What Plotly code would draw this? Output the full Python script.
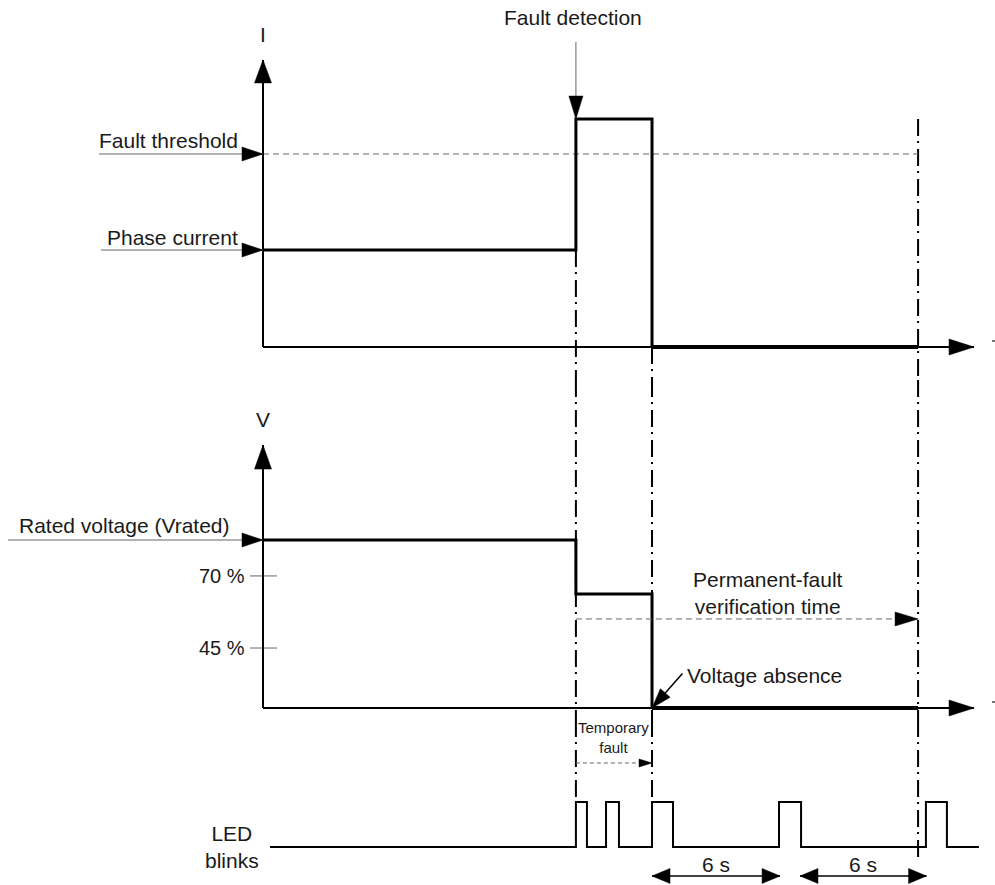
import math
import plotly.graph_objects as go

# ---- data (time in s from the vertical axes, levels per panel) ----
t_fault = 14.76          # fault appears / detection
t_clear = 18.35          # upstream breaker opens
t_verify_end = 30.9      # end of permanent-fault verification
t_axis_end = 33.54
t_led_start = 0.33
t_led_end = 33.77

# current panel (x rated current)
i_phase = 1.0
i_threshold = 1.99
i_fault = 2.35
i_axis_top = 2.96

# voltage panel (schematic %)
v_rated = 100
v_dip = 67.9
v_marks = [78.6, 35.7]
v_mark_labels = ["70 %", "45 %"]
v_verify = 53.0
v_axis_top = 156.5

# LED panel (0 = off, 1 = on)
blink_on = [14.76, 16.18, 18.35, 24.34, 31.27]
blink_off = [15.28, 16.79, 19.34, 25.38, 32.26]
led_temp_level = 1.867
period_start = [18.35, 25.33]
period_end = [24.39, 31.3]
period_labels = ["6 s", "6 s"]
period_level = -0.644

# ---- canvas ----
W, H = 995, 885
PX_PER_S = 21.2
ORIGIN_PX = 263
PANELS = {
    "y": dict(top=0, bottom=380, zero=347, scale=97.0),
    "y2": dict(top=380, bottom=720, zero=708, scale=1.68),
    "y3": dict(top=720, bottom=885, zero=847, scale=45.0),
}
FONT = "Liberation Sans, Arial, sans-serif"
TXT = "#1a1a1a"
GREY = "#666666"
DASHDOT = "17px,5px,2px,6px"

fig = go.Figure()


def seg(xs, ys, yref="y", width=2, color="black", dash=None):
    fig.add_trace(go.Scatter(
        x=xs, y=ys, yaxis=yref, mode="lines",
        line=dict(color=color, width=width, dash=dash),
        hoverinfo="skip", showlegend=False))


def head(x, y, yref, dx, dy, length, width, color="black"):
    # dx, dy: direction in screen pixels (y down)
    n = math.hypot(dx, dy)
    ux, uy = dx / n, dy / n
    px, py = -uy, ux
    bx, by = -ux * length, -uy * length
    pts = [(0, 0), (bx + px * width / 2, by + py * width / 2),
           (bx - px * width / 2, by - py * width / 2), (0, 0)]
    s = PANELS[yref]["scale"]
    fig.add_trace(go.Scatter(
        x=[x + p[0] / PX_PER_S for p in pts],
        y=[y - p[1] / s for p in pts],
        yaxis=yref, mode="lines", fill="toself", fillcolor=color,
        line=dict(color=color, width=0.5),
        hoverinfo="skip", showlegend=False))


def arrow(x0, y0, x1, y1, yref, hl, hw, lw=1, color=GREY, dash=None, head_color="black"):
    s = PANELS[yref]["scale"]
    dx = (x1 - x0) * PX_PER_S
    dy = -(y1 - y0) * s
    seg([x0, x1], [y0, y1], yref, lw, color, dash)
    head(x1, y1, yref, dx, dy, hl, hw, head_color)


def arrow_px(x1, y1, yref, dx, dy, tail, hl, hw, lw=1, color=GREY):
    # arrow ending at (x1, y1), coming from `tail` px back along (dx, dy)
    n = math.hypot(dx, dy)
    s = PANELS[yref]["scale"]
    x0 = x1 - dx / n * tail / PX_PER_S
    y0 = y1 + dy / n * tail / s
    arrow(x0, y0, x1, y1, yref, hl, hw, lw, color)


def label(text, x, y, yref, size=21, xanchor="center", xshift=0, yshift=0):
    fig.add_annotation(
        text=text, x=x, y=y, xref="x", yref=yref, showarrow=False,
        xanchor=xanchor, yanchor="middle", xshift=xshift, yshift=yshift,
        font=dict(family=FONT, size=size, color=TXT), align="center")


def stub(yref):
    # clipped end of the time-axis letter at the right edge
    s = PANELS[yref]["scale"]
    x0 = t_axis_end + 18 / PX_PER_S
    seg([x0, x0 + 3 / PX_PER_S], [6 / s, 6 / s], yref, 1.5, "#444444")


# ---- dash-dot guide lines through all panels ----
guides = [
    (t_fault, i_phase, 1.0),
    (t_clear, 0.0, 1.0),
    (t_verify_end, i_fault, -0.333),
]
p1, p2, p3 = PANELS["y"], PANELS["y2"], PANELS["y3"]
for t, top_val, bot_val in guides:
    seg([t, t], [top_val, (p1["zero"] - p1["bottom"]) / p1["scale"]], "y", 2, "black", DASHDOT)
    seg([t, t], [(p2["zero"] - p2["top"]) / p2["scale"], (p2["zero"] - p2["bottom"]) / p2["scale"]],
        "y2", 2, "black", DASHDOT)
    seg([t, t], [(p3["zero"] - p3["top"]) / p3["scale"], bot_val], "y3", 2, "black", DASHDOT)

# ---- current panel ----
seg([0, t_verify_end], [i_threshold, i_threshold], "y", 1, GREY, "6px,4px")
arrow(0, 0, 0, i_axis_top, "y", 23, 17, lw=2, color="black")
arrow(0, 0, t_axis_end, 0, "y", 25, 16, lw=2, color="black")
seg([0, t_fault, t_fault, t_clear, t_clear], [i_phase, i_phase, i_fault, i_fault, 0], "y", 3)
seg([t_clear, t_verify_end], [0, 0], "y", 4)
arrow_px(0, i_threshold, "y", 1, 0, 164, 21, 14)
arrow_px(0, i_phase, "y", 1, 0, 162, 21, 14)
arrow_px(t_fault, i_fault, "y", 0, 1, 77, 23, 14)
label("I", 0, i_axis_top, "y", yshift=25)
label("Fault detection", t_fault, i_fault, "y", xshift=-3, yshift=102)
label("Fault threshold", 0, i_threshold, "y", xanchor="right", xshift=-23, yshift=13)
label("Phase current", 0, i_phase, "y", xanchor="right", xshift=-23, yshift=13)
stub("y")

# ---- voltage panel ----
for v in v_marks:
    seg([-0.61, 0.66], [v, v], "y2", 1, GREY)
arrow(0, 0, 0, v_axis_top, "y2", 24, 17, lw=2, color="black")
arrow(0, 0, t_axis_end, 0, "y2", 25, 16, lw=2, color="black")
seg([0, t_fault, t_fault, t_clear, t_clear], [v_rated, v_rated, v_dip, v_dip, 0], "y2", 3)
seg([t_clear, t_verify_end], [0, 0], "y2", 4)
arrow_px(0, v_rated, "y2", 1, 0, 255, 21, 14)
arrow(t_fault, v_verify, t_verify_end, v_verify, "y2", 23, 14, lw=1, color=GREY, dash="6px,4px")
arrow_px(t_clear, 0, "y2", -30, 34, 46, 20, 13, lw=1.5, color="black")
label("V", 0, v_axis_top, "y2", yshift=26)
label("Rated voltage (Vrated)", 0, v_rated, "y2", xanchor="right", xshift=-31, yshift=15)
for v, txt in zip(v_marks, v_mark_labels):
    label(txt, 0, v, "y2", size=20, xanchor="right", xshift=-16, yshift=0)
label("Permanent-fault<br>verification time", (t_fault + t_verify_end) / 2 + 1.0, v_verify,
      "y2", yshift=26)
label("Voltage absence", t_clear, 0, "y2", xanchor="left", xshift=33, yshift=33)
stub("y2")

# ---- LED panel ----
led_x, led_y = [t_led_start], [0]
for on, off in zip(blink_on, blink_off):
    led_x += [on, on, off, off]
    led_y += [0, 1, 1, 0]
led_x.append(t_led_end)
led_y.append(0)
seg(led_x, led_y, "y3", 2)
arrow(t_fault, led_temp_level, t_clear, led_temp_level, "y3", 13, 8, lw=1, color=GREY, dash="4px,3px")
label("Temporary<br>fault", (t_fault + t_clear) / 2, led_temp_level, "y3", size=15, yshift=25)
label("LED<br>blinks", t_led_start, 0, "y3", xanchor="center", xshift=-38)
for a, b, txt in zip(period_start, period_end, period_labels):
    seg([a, b], [period_level, period_level], "y3", 1.5)
    head(a, period_level, "y3", -1, 0, 18, 15)
    head(b, period_level, "y3", 1, 0, 18, 15)
    label(txt, (a + b) / 2, period_level, "y3", yshift=11)


def ydomain(p):
    return [1 - p["bottom"] / H, 1 - p["top"] / H]


def yrange(p):
    return [(p["zero"] - p["bottom"]) / p["scale"], (p["zero"] - p["top"]) / p["scale"]]


axis_common = dict(visible=False, fixedrange=True, showgrid=False, zeroline=False)
fig.update_layout(
    width=W, height=H,
    margin=dict(l=0, r=0, t=0, b=0),
    paper_bgcolor="white", plot_bgcolor="white",
    showlegend=False,
    xaxis=dict(range=[-ORIGIN_PX / PX_PER_S, (W - ORIGIN_PX) / PX_PER_S], domain=[0, 1], **axis_common),
    yaxis=dict(domain=ydomain(PANELS["y"]), range=yrange(PANELS["y"]), **axis_common),
    yaxis2=dict(domain=ydomain(PANELS["y2"]), range=yrange(PANELS["y2"]), anchor="x", **axis_common),
    yaxis3=dict(domain=ydomain(PANELS["y3"]), range=yrange(PANELS["y3"]), anchor="x", **axis_common),
)

fig.write_html(
    "out.html",
    config={"displayModeBar": False},
    post_script="document.body.style.margin='0';document.body.style.overflow='hidden';",
)
